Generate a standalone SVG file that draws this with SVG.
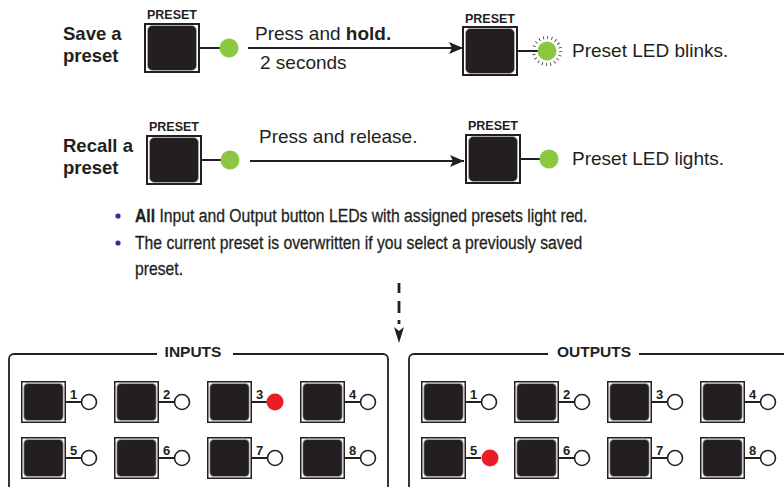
<svg xmlns="http://www.w3.org/2000/svg" xmlns:xlink="http://www.w3.org/1999/xlink" width="784" height="487" viewBox="0 0 784 487">
<style>
text{font-family:"Liberation Sans",Arial,sans-serif;fill:#231f20}
.b{font-weight:bold}
.lbl{font-size:12.5px;font-weight:bold;text-anchor:middle}
.big{font-size:18.5px}
.txt{font-size:19px}
.note{font-size:18.5px;stroke:#231f20;stroke-width:0.3}
.num{font-size:13px;font-weight:bold;text-anchor:middle}
.ttl{font-size:15.5px;font-weight:bold;text-anchor:middle}
.wire{stroke:#231f20;stroke-width:2;fill:none}
.led{fill:#8dc63f}
.off{fill:#fff;stroke:#231f20;stroke-width:1.6}
.red{fill:#ed1c24}
.panel{fill:none;stroke:#231f20;stroke-width:1.8}
</style>
<defs>
<g id="pb">
<rect x="1" y="1" width="54" height="48" fill="#fff" stroke="#231f20" stroke-width="2"/>
<rect x="3.5" y="2.5" width="49" height="45" rx="5" fill="#231f20" stroke="#b3b3b3" stroke-width="0.8"/>
</g>
<g id="sb">
<rect x="0.75" y="0.75" width="43.5" height="40.5" fill="#fff" stroke="#231f20" stroke-width="1.5"/>
<rect x="2.8" y="2.5" width="39.4" height="37" rx="4" fill="#231f20" stroke="#b3b3b3" stroke-width="0.7"/>
</g>
<marker id="ah" markerUnits="userSpaceOnUse" markerWidth="16" markerHeight="14" refX="14" refY="6" orient="auto" overflow="visible">
<path d="M14,6 L0,0 L3,6 L0,12 Z" fill="#231f20"/>
</marker>
</defs>

<!-- Save a preset row -->
<g id="save-label"><text class="big b" x="63" y="40">Save a</text><text class="big b" x="63" y="62">preset</text></g>
<g id="save-btn1" transform="translate(144,23)">
<text class="lbl" x="28" y="-4">PRESET</text>
<use xlink:href="#pb" href="#pb"/>
<line class="wire" x1="56" y1="25" x2="78" y2="25"/>
<circle class="led" cx="85" cy="25" r="9.5"/>
</g>
<g id="save-btn2" transform="translate(462,26)">
<text class="lbl" x="28" y="-3.5">PRESET</text>
<use xlink:href="#pb" href="#pb"/>
<line class="wire" x1="56" y1="25" x2="76" y2="25"/>
<circle cx="85" cy="25" r="13.5" fill="none" stroke="#231f20" stroke-width="3.2" stroke-dasharray="0.7 3.54"/>
<circle class="led" cx="85" cy="25" r="9.5"/>
</g>
<g id="save-text">
<text class="txt" x="255" y="40">Press and <tspan class="b">hold.</tspan></text>
<text class="txt" x="260" y="69">2 seconds</text>
<text class="txt" x="572" y="57">Preset LED blinks.</text>
</g>

<!-- Recall a preset row -->
<g id="recall-label"><text class="big b" x="63" y="152">Recall a</text><text class="big b" x="63" y="174">preset</text></g>
<g id="recall-btn1" transform="translate(146,135)">
<text class="lbl" x="28" y="-4">PRESET</text>
<use xlink:href="#pb" href="#pb"/>
<line class="wire" x1="56" y1="25" x2="78" y2="25"/>
<circle class="led" cx="84" cy="25" r="9.5"/>
</g>
<g id="recall-btn2" transform="translate(465,134)">
<text class="lbl" x="28" y="-4">PRESET</text>
<use xlink:href="#pb" href="#pb"/>
<line class="wire" x1="56" y1="25" x2="76" y2="25"/>
<circle class="led" cx="84" cy="25" r="9.5"/>
</g>
<g id="recall-text">
<text class="txt" x="259" y="143">Press and release.</text>
<text class="txt" x="572" y="165">Preset LED lights.</text>
</g>

<!-- notes -->
<g id="notes">
<circle cx="118" cy="216" r="2.6" fill="#2e3192"/>
<circle cx="118" cy="243" r="2.6" fill="#2e3192"/>
<g transform="translate(135,0) scale(0.85,1)">
<text class="note" x="0" y="222"><tspan class="b">All</tspan> Input and Output button LEDs with assigned presets light red.</text>
<text class="note" x="0" y="249">The current preset is overwritten if you select a previously saved</text>
<text class="note" x="0" y="275">preset.</text>
</g>
</g>

<!-- connectors -->
<g id="connectors">
<line x1="248" y1="48" x2="463" y2="48" stroke="#231f20" stroke-width="1.8" marker-end="url(#ah)"/>
<line x1="250" y1="161" x2="464" y2="161" stroke="#231f20" stroke-width="1.8" marker-end="url(#ah)"/>
<g stroke="#231f20" stroke-width="2.8">
<line x1="399" y1="283" x2="399" y2="293"/>
<line x1="399" y1="301" x2="399" y2="313"/>
<line x1="399" y1="320" x2="399" y2="324"/>
</g>
<path d="M399,343 L394,327 L399,331 L404,327 Z" fill="#231f20"/>
</g>

<!-- INPUTS panel -->
<g id="inputs-panel">
<path class="panel" d="M157,354 H14 A5,5 0 0 0 9,359 V495 M388,495 V359 A5,5 0 0 0 383,354 H233"/>
<text class="ttl" x="193" y="357">INPUTS</text>
</g>
<g id="in1" transform="translate(21,381)"><use xlink:href="#sb" href="#sb"/><line class="wire" x1="45" y1="21" x2="60" y2="21" stroke-width="1.5"/><circle class="off" cx="68" cy="21" r="7.5"/><text class="num" x="52.5" y="18">1</text></g>
<g id="in2" transform="translate(114,381)"><use xlink:href="#sb" href="#sb"/><line class="wire" x1="45" y1="21" x2="60" y2="21" stroke-width="1.5"/><circle class="off" cx="68" cy="21" r="7.5"/><text class="num" x="52.5" y="18">2</text></g>
<g id="in3" transform="translate(207,381)"><use xlink:href="#sb" href="#sb"/><line class="wire" x1="45" y1="21" x2="60" y2="21" stroke-width="1.5"/><circle class="red" cx="68" cy="21" r="8.5"/><text class="num" x="52.5" y="18">3</text></g>
<g id="in4" transform="translate(300,381)"><use xlink:href="#sb" href="#sb"/><line class="wire" x1="45" y1="21" x2="60" y2="21" stroke-width="1.5"/><circle class="off" cx="68" cy="21" r="7.5"/><text class="num" x="52.5" y="18">4</text></g>
<g id="in5" transform="translate(21,437)"><use xlink:href="#sb" href="#sb"/><line class="wire" x1="45" y1="21" x2="60" y2="21" stroke-width="1.5"/><circle class="off" cx="68" cy="21" r="7.5"/><text class="num" x="52.5" y="18">5</text></g>
<g id="in6" transform="translate(114,437)"><use xlink:href="#sb" href="#sb"/><line class="wire" x1="45" y1="21" x2="60" y2="21" stroke-width="1.5"/><circle class="off" cx="68" cy="21" r="7.5"/><text class="num" x="52.5" y="18">6</text></g>
<g id="in7" transform="translate(207,437)"><use xlink:href="#sb" href="#sb"/><line class="wire" x1="45" y1="21" x2="60" y2="21" stroke-width="1.5"/><circle class="off" cx="68" cy="21" r="7.5"/><text class="num" x="52.5" y="18">7</text></g>
<g id="in8" transform="translate(300,437)"><use xlink:href="#sb" href="#sb"/><line class="wire" x1="45" y1="21" x2="60" y2="21" stroke-width="1.5"/><circle class="off" cx="68" cy="21" r="7.5"/><text class="num" x="52.5" y="18">8</text></g>

<!-- OUTPUTS panel -->
<g id="outputs-panel">
<path class="panel" d="M548,354 H414 A5,5 0 0 0 409,359 V495 M639,354 H790"/>
<text class="ttl" x="594" y="357">OUTPUTS</text>
</g>
<g id="out1" transform="translate(421,381)"><use xlink:href="#sb" href="#sb"/><line class="wire" x1="45" y1="21" x2="60" y2="21" stroke-width="1.5"/><circle class="off" cx="68" cy="21" r="7.5"/><text class="num" x="52.5" y="18">1</text></g>
<g id="out2" transform="translate(514,381)"><use xlink:href="#sb" href="#sb"/><line class="wire" x1="45" y1="21" x2="60" y2="21" stroke-width="1.5"/><circle class="off" cx="68" cy="21" r="7.5"/><text class="num" x="52.5" y="18">2</text></g>
<g id="out3" transform="translate(607,381)"><use xlink:href="#sb" href="#sb"/><line class="wire" x1="45" y1="21" x2="60" y2="21" stroke-width="1.5"/><circle class="off" cx="68" cy="21" r="7.5"/><text class="num" x="52.5" y="18">3</text></g>
<g id="out4" transform="translate(700,381)"><use xlink:href="#sb" href="#sb"/><line class="wire" x1="45" y1="21" x2="60" y2="21" stroke-width="1.5"/><circle class="off" cx="68" cy="21" r="7.5"/><text class="num" x="52.5" y="18">4</text></g>
<g id="out5" transform="translate(421,437)"><use xlink:href="#sb" href="#sb"/><line class="wire" x1="45" y1="21" x2="60" y2="21" stroke-width="1.5"/><circle class="red" cx="69" cy="21" r="8.5"/><text class="num" x="52.5" y="18">5</text></g>
<g id="out6" transform="translate(514,437)"><use xlink:href="#sb" href="#sb"/><line class="wire" x1="45" y1="21" x2="60" y2="21" stroke-width="1.5"/><circle class="off" cx="68" cy="21" r="7.5"/><text class="num" x="52.5" y="18">6</text></g>
<g id="out7" transform="translate(607,437)"><use xlink:href="#sb" href="#sb"/><line class="wire" x1="45" y1="21" x2="60" y2="21" stroke-width="1.5"/><circle class="off" cx="68" cy="21" r="7.5"/><text class="num" x="52.5" y="18">7</text></g>
<g id="out8" transform="translate(700,437)"><use xlink:href="#sb" href="#sb"/><line class="wire" x1="45" y1="21" x2="60" y2="21" stroke-width="1.5"/><circle class="off" cx="68" cy="21" r="7.5"/><text class="num" x="52.5" y="18">8</text></g>
</svg>
